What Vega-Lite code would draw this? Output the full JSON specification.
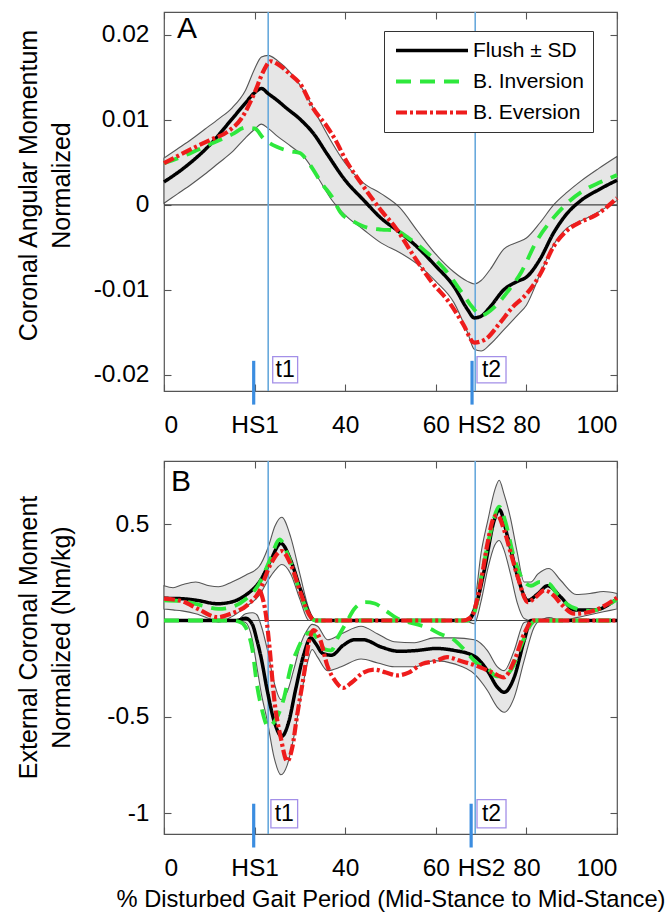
{
  "$schema": "https://vega.github.io/schema/vega-lite/v6.json",
  "padding": {"left": 15, "top": 10, "right": 5, "bottom": 5},
  "background": "white",
  "config": {
    "font": "Liberation Sans",
    "view": {"stroke": "#555555", "strokeWidth": 1.2},
    "axis": {"domain": false, "grid": false, "tickColor": "#555555", "tickWidth": 1.1, "tickSize": -7, "labelFont": "Liberation Sans", "labelFontSize": 24.5, "labelColor": "#000000", "titleFont": "Liberation Sans", "titleFontSize": 25, "titleFontWeight": "normal", "titleColor": "#000000", "titleLineHeight": 33},
    "axisX": {"labelPadding": 29},
    "axisY": {"labelPadding": 22}
  },
  "datasets": {
    "bands": [
      {"p":"A","b":"m","x":0,"hi":0.0055,"lo":0.0002},
      {"p":"A","b":"m","x":3,"hi":0.0066,"lo":0.0013},
      {"p":"A","b":"m","x":6,"hi":0.0077,"lo":0.0024},
      {"p":"A","b":"m","x":9,"hi":0.0089,"lo":0.0036},
      {"p":"A","b":"m","x":12,"hi":0.0101,"lo":0.0049},
      {"p":"A","b":"m","x":15,"hi":0.0114,"lo":0.0062},
      {"p":"A","b":"m","x":18,"hi":0.0135,"lo":0.0079},
      {"p":"A","b":"m","x":20,"hi":0.0160,"lo":0.0089},
      {"p":"A","b":"m","x":21.5,"hi":0.0174,"lo":0.0095},
      {"p":"A","b":"m","x":23,"hi":0.0176,"lo":0.0090},
      {"p":"A","b":"m","x":25,"hi":0.0170,"lo":0.0081},
      {"p":"A","b":"m","x":28,"hi":0.0155,"lo":0.0069},
      {"p":"A","b":"m","x":31,"hi":0.0133,"lo":0.0056},
      {"p":"A","b":"m","x":34,"hi":0.0103,"lo":0.0032},
      {"p":"A","b":"m","x":37,"hi":0.0074,"lo":0.0006},
      {"p":"A","b":"m","x":40,"hi":0.0049,"lo":-0.0012},
      {"p":"A","b":"m","x":44,"hi":0.0026,"lo":-0.0029},
      {"p":"A","b":"m","x":48,"hi":0.0013,"lo":-0.0045},
      {"p":"A","b":"m","x":52,"hi":-0.0003,"lo":-0.0056},
      {"p":"A","b":"m","x":56,"hi":-0.0031,"lo":-0.0070},
      {"p":"A","b":"m","x":60,"hi":-0.0058,"lo":-0.0090},
      {"p":"A","b":"m","x":64,"hi":-0.0079,"lo":-0.0115},
      {"p":"A","b":"m","x":67,"hi":-0.0090,"lo":-0.0150},
      {"p":"A","b":"m","x":68.5,"hi":-0.0093,"lo":-0.0170},
      {"p":"A","b":"m","x":70,"hi":-0.0089,"lo":-0.0172},
      {"p":"A","b":"m","x":72,"hi":-0.0076,"lo":-0.0164},
      {"p":"A","b":"m","x":75,"hi":-0.0052,"lo":-0.0147},
      {"p":"A","b":"m","x":78,"hi":-0.0044,"lo":-0.0130},
      {"p":"A","b":"m","x":80,"hi":-0.0039,"lo":-0.0118},
      {"p":"A","b":"m","x":83,"hi":-0.0021,"lo":-0.0082},
      {"p":"A","b":"m","x":86,"hi":0.0000,"lo":-0.0047},
      {"p":"A","b":"m","x":89,"hi":0.0015,"lo":-0.0027},
      {"p":"A","b":"m","x":92,"hi":0.0028,"lo":-0.0019},
      {"p":"A","b":"m","x":96,"hi":0.0043,"lo":-0.0008},
      {"p":"A","b":"m","x":100,"hi":0.0057,"lo":0.0005},

      {"p":"B","b":"pos","x":0,"hi":0.18,"lo":0.06},
      {"p":"B","b":"pos","x":2,"hi":0.17,"lo":0.055},
      {"p":"B","b":"pos","x":4,"hi":0.185,"lo":0.05},
      {"p":"B","b":"pos","x":7,"hi":0.2,"lo":0.035},
      {"p":"B","b":"pos","x":10,"hi":0.18,"lo":0.01},
      {"p":"B","b":"pos","x":12,"hi":0.175,"lo":-0.008},
      {"p":"B","b":"pos","x":15,"hi":0.2,"lo":0.02},
      {"p":"B","b":"pos","x":18,"hi":0.235,"lo":0.07},
      {"p":"B","b":"pos","x":21,"hi":0.28,"lo":0.13},
      {"p":"B","b":"pos","x":23,"hi":0.38,"lo":0.21},
      {"p":"B","b":"pos","x":24.5,"hi":0.49,"lo":0.26},
      {"p":"B","b":"pos","x":26,"hi":0.535,"lo":0.29},
      {"p":"B","b":"pos","x":28,"hi":0.43,"lo":0.24},
      {"p":"B","b":"pos","x":30,"hi":0.24,"lo":0.11},
      {"p":"B","b":"pos","x":32,"hi":0.06,"lo":0.0},
      {"p":"B","b":"pos","x":33.5,"hi":0.0,"lo":0.0},
      {"p":"B","b":"pos","x":66,"hi":0.0,"lo":0.0},
      {"p":"B","b":"pos","x":67,"hi":0.01,"lo":-0.005},
      {"p":"B","b":"pos","x":68.5,"hi":0.08,"lo":-0.017},
      {"p":"B","b":"pos","x":70,"hi":0.35,"lo":0.1},
      {"p":"B","b":"pos","x":71.5,"hi":0.52,"lo":0.27},
      {"p":"B","b":"pos","x":73,"hi":0.675,"lo":0.39},
      {"p":"B","b":"pos","x":74,"hi":0.727,"lo":0.415},
      {"p":"B","b":"pos","x":75,"hi":0.66,"lo":0.37},
      {"p":"B","b":"pos","x":76.5,"hi":0.53,"lo":0.24},
      {"p":"B","b":"pos","x":78,"hi":0.35,"lo":0.09},
      {"p":"B","b":"pos","x":79.5,"hi":0.2,"lo":0.01},
      {"p":"B","b":"pos","x":81,"hi":0.2,"lo":0.0},
      {"p":"B","b":"pos","x":82.5,"hi":0.24,"lo":0.0},
      {"p":"B","b":"pos","x":85,"hi":0.27,"lo":0.015},
      {"p":"B","b":"pos","x":87.5,"hi":0.21,"lo":0.0},
      {"p":"B","b":"pos","x":91,"hi":0.135,"lo":0.015},
      {"p":"B","b":"pos","x":94,"hi":0.14,"lo":0.03},
      {"p":"B","b":"pos","x":97,"hi":0.15,"lo":0.045},
      {"p":"B","b":"pos","x":100,"hi":0.14,"lo":0.06},

      {"p":"B","b":"neg","x":0,"hi":0,"lo":0},
      {"p":"B","b":"neg","x":16,"hi":0,"lo":0},
      {"p":"B","b":"neg","x":18,"hi":0.035,"lo":-0.01},
      {"p":"B","b":"neg","x":19.5,"hi":0.04,"lo":-0.1},
      {"p":"B","b":"neg","x":20.5,"hi":0.03,"lo":-0.24},
      {"p":"B","b":"neg","x":21.5,"hi":-0.03,"lo":-0.38},
      {"p":"B","b":"neg","x":22.8,"hi":-0.15,"lo":-0.52},
      {"p":"B","b":"neg","x":24.3,"hi":-0.32,"lo":-0.71},
      {"p":"B","b":"neg","x":25.8,"hi":-0.41,"lo":-0.8},
      {"p":"B","b":"neg","x":27.2,"hi":-0.37,"lo":-0.75},
      {"p":"B","b":"neg","x":28.7,"hi":-0.25,"lo":-0.6},
      {"p":"B","b":"neg","x":30.2,"hi":-0.12,"lo":-0.4},
      {"p":"B","b":"neg","x":31.6,"hi":-0.05,"lo":-0.225},
      {"p":"B","b":"neg","x":32.7,"hi":-0.02,"lo":-0.15},
      {"p":"B","b":"neg","x":33.9,"hi":-0.03,"lo":-0.19},
      {"p":"B","b":"neg","x":36.1,"hi":-0.1,"lo":-0.26},
      {"p":"B","b":"neg","x":39.1,"hi":-0.07,"lo":-0.24},
      {"p":"B","b":"neg","x":43.5,"hi":-0.03,"lo":-0.2},
      {"p":"B","b":"neg","x":47.2,"hi":-0.07,"lo":-0.22},
      {"p":"B","b":"neg","x":50.8,"hi":-0.11,"lo":-0.24},
      {"p":"B","b":"neg","x":55.3,"hi":-0.115,"lo":-0.24},
      {"p":"B","b":"neg","x":59.7,"hi":-0.09,"lo":-0.208},
      {"p":"B","b":"neg","x":64.1,"hi":-0.09,"lo":-0.225},
      {"p":"B","b":"neg","x":68.5,"hi":-0.1,"lo":-0.277},
      {"p":"B","b":"neg","x":71.4,"hi":-0.156,"lo":-0.363},
      {"p":"B","b":"neg","x":73.6,"hi":-0.24,"lo":-0.45},
      {"p":"B","b":"neg","x":75.1,"hi":-0.26,"lo":-0.476},
      {"p":"B","b":"neg","x":77.3,"hi":-0.156,"lo":-0.4},
      {"p":"B","b":"neg","x":79.5,"hi":-0.01,"lo":-0.208},
      {"p":"B","b":"neg","x":81.7,"hi":0,"lo":-0.035},
      {"p":"B","b":"neg","x":83.2,"hi":0,"lo":0},
      {"p":"B","b":"neg","x":100,"hi":0,"lo":0}
    ],
    "lines": [
      {"p":"A","s":"Flush ± SD","b":"m","x":0,"y":0.0027},
      {"p":"A","s":"Flush ± SD","b":"m","x":5,"y":0.0046},
      {"p":"A","s":"Flush ± SD","b":"m","x":10,"y":0.0070},
      {"p":"A","s":"Flush ± SD","b":"m","x":15,"y":0.0101},
      {"p":"A","s":"Flush ± SD","b":"m","x":18,"y":0.0120},
      {"p":"A","s":"Flush ± SD","b":"m","x":20,"y":0.0132},
      {"p":"A","s":"Flush ± SD","b":"m","x":21.5,"y":0.0137},
      {"p":"A","s":"Flush ± SD","b":"m","x":23,"y":0.0131},
      {"p":"A","s":"Flush ± SD","b":"m","x":25,"y":0.0123},
      {"p":"A","s":"Flush ± SD","b":"m","x":27,"y":0.0114},
      {"p":"A","s":"Flush ± SD","b":"m","x":30,"y":0.0101},
      {"p":"A","s":"Flush ± SD","b":"m","x":33,"y":0.0084},
      {"p":"A","s":"Flush ± SD","b":"m","x":36,"y":0.0060},
      {"p":"A","s":"Flush ± SD","b":"m","x":40,"y":0.0029},
      {"p":"A","s":"Flush ± SD","b":"m","x":44,"y":0.0006},
      {"p":"A","s":"Flush ± SD","b":"m","x":48,"y":-0.0016},
      {"p":"A","s":"Flush ± SD","b":"m","x":52,"y":-0.0032},
      {"p":"A","s":"Flush ± SD","b":"m","x":56,"y":-0.0050},
      {"p":"A","s":"Flush ± SD","b":"m","x":60,"y":-0.0072},
      {"p":"A","s":"Flush ± SD","b":"m","x":64,"y":-0.0096},
      {"p":"A","s":"Flush ± SD","b":"m","x":67,"y":-0.0123},
      {"p":"A","s":"Flush ± SD","b":"m","x":68.5,"y":-0.0133},
      {"p":"A","s":"Flush ± SD","b":"m","x":70,"y":-0.0131},
      {"p":"A","s":"Flush ± SD","b":"m","x":72,"y":-0.0120},
      {"p":"A","s":"Flush ± SD","b":"m","x":75,"y":-0.0100},
      {"p":"A","s":"Flush ± SD","b":"m","x":78,"y":-0.0090},
      {"p":"A","s":"Flush ± SD","b":"m","x":80,"y":-0.0085},
      {"p":"A","s":"Flush ± SD","b":"m","x":83,"y":-0.0064},
      {"p":"A","s":"Flush ± SD","b":"m","x":86,"y":-0.0033},
      {"p":"A","s":"Flush ± SD","b":"m","x":89,"y":-0.0010},
      {"p":"A","s":"Flush ± SD","b":"m","x":92,"y":0.0005},
      {"p":"A","s":"Flush ± SD","b":"m","x":96,"y":0.0018},
      {"p":"A","s":"Flush ± SD","b":"m","x":100,"y":0.0029},

      {"p":"A","s":"B. Inversion","b":"m","x":0,"y":0.0049},
      {"p":"A","s":"B. Inversion","b":"m","x":5,"y":0.0059},
      {"p":"A","s":"B. Inversion","b":"m","x":10,"y":0.0071},
      {"p":"A","s":"B. Inversion","b":"m","x":15,"y":0.0083},
      {"p":"A","s":"B. Inversion","b":"m","x":18,"y":0.0091},
      {"p":"A","s":"B. Inversion","b":"m","x":20,"y":0.0090},
      {"p":"A","s":"B. Inversion","b":"m","x":22,"y":0.0078},
      {"p":"A","s":"B. Inversion","b":"m","x":25,"y":0.0068},
      {"p":"A","s":"B. Inversion","b":"m","x":28,"y":0.0063},
      {"p":"A","s":"B. Inversion","b":"m","x":30,"y":0.0061},
      {"p":"A","s":"B. Inversion","b":"m","x":32,"y":0.0049},
      {"p":"A","s":"B. Inversion","b":"m","x":35,"y":0.0024},
      {"p":"A","s":"B. Inversion","b":"m","x":37,"y":0.0010},
      {"p":"A","s":"B. Inversion","b":"m","x":39,"y":-0.0009},
      {"p":"A","s":"B. Inversion","b":"m","x":42,"y":-0.0020},
      {"p":"A","s":"B. Inversion","b":"m","x":45,"y":-0.0027},
      {"p":"A","s":"B. Inversion","b":"m","x":48,"y":-0.0029},
      {"p":"A","s":"B. Inversion","b":"m","x":51,"y":-0.0030},
      {"p":"A","s":"B. Inversion","b":"m","x":54,"y":-0.0039},
      {"p":"A","s":"B. Inversion","b":"m","x":58,"y":-0.0056},
      {"p":"A","s":"B. Inversion","b":"m","x":62,"y":-0.0076},
      {"p":"A","s":"B. Inversion","b":"m","x":66,"y":-0.0105},
      {"p":"A","s":"B. Inversion","b":"m","x":68,"y":-0.0120},
      {"p":"A","s":"B. Inversion","b":"m","x":70,"y":-0.0130},
      {"p":"A","s":"B. Inversion","b":"m","x":73,"y":-0.0120},
      {"p":"A","s":"B. Inversion","b":"m","x":76,"y":-0.0101},
      {"p":"A","s":"B. Inversion","b":"m","x":79,"y":-0.0078},
      {"p":"A","s":"B. Inversion","b":"m","x":82,"y":-0.0045},
      {"p":"A","s":"B. Inversion","b":"m","x":86,"y":-0.0015},
      {"p":"A","s":"B. Inversion","b":"m","x":89,"y":0.0002},
      {"p":"A","s":"B. Inversion","b":"m","x":93,"y":0.0018},
      {"p":"A","s":"B. Inversion","b":"m","x":96,"y":0.0026},
      {"p":"A","s":"B. Inversion","b":"m","x":100,"y":0.0035},

      {"p":"A","s":"B. Eversion","b":"m","x":0,"y":0.0049},
      {"p":"A","s":"B. Eversion","b":"m","x":5,"y":0.0063},
      {"p":"A","s":"B. Eversion","b":"m","x":10,"y":0.0076},
      {"p":"A","s":"B. Eversion","b":"m","x":14,"y":0.0086},
      {"p":"A","s":"B. Eversion","b":"m","x":17,"y":0.0101},
      {"p":"A","s":"B. Eversion","b":"m","x":20,"y":0.0132},
      {"p":"A","s":"B. Eversion","b":"m","x":22,"y":0.0158},
      {"p":"A","s":"B. Eversion","b":"m","x":23.5,"y":0.0169},
      {"p":"A","s":"B. Eversion","b":"m","x":25,"y":0.0166},
      {"p":"A","s":"B. Eversion","b":"m","x":28,"y":0.0153},
      {"p":"A","s":"B. Eversion","b":"m","x":30,"y":0.0143},
      {"p":"A","s":"B. Eversion","b":"m","x":33,"y":0.0113},
      {"p":"A","s":"B. Eversion","b":"m","x":36,"y":0.0092},
      {"p":"A","s":"B. Eversion","b":"m","x":38,"y":0.0075},
      {"p":"A","s":"B. Eversion","b":"m","x":40,"y":0.0054},
      {"p":"A","s":"B. Eversion","b":"m","x":44,"y":0.0022},
      {"p":"A","s":"B. Eversion","b":"m","x":48,"y":-0.0007},
      {"p":"A","s":"B. Eversion","b":"m","x":51,"y":-0.0026},
      {"p":"A","s":"B. Eversion","b":"m","x":55,"y":-0.0059},
      {"p":"A","s":"B. Eversion","b":"m","x":59,"y":-0.0090},
      {"p":"A","s":"B. Eversion","b":"m","x":63,"y":-0.0115},
      {"p":"A","s":"B. Eversion","b":"m","x":66,"y":-0.0140},
      {"p":"A","s":"B. Eversion","b":"m","x":68.5,"y":-0.0162},
      {"p":"A","s":"B. Eversion","b":"m","x":71,"y":-0.0158},
      {"p":"A","s":"B. Eversion","b":"m","x":74,"y":-0.0140},
      {"p":"A","s":"B. Eversion","b":"m","x":77,"y":-0.0120},
      {"p":"A","s":"B. Eversion","b":"m","x":80,"y":-0.0105},
      {"p":"A","s":"B. Eversion","b":"m","x":83,"y":-0.0082},
      {"p":"A","s":"B. Eversion","b":"m","x":86,"y":-0.0049},
      {"p":"A","s":"B. Eversion","b":"m","x":89,"y":-0.0030},
      {"p":"A","s":"B. Eversion","b":"m","x":92,"y":-0.0020},
      {"p":"A","s":"B. Eversion","b":"m","x":95,"y":-0.0013},
      {"p":"A","s":"B. Eversion","b":"m","x":100,"y":0.0008},

      {"p":"B","s":"Flush ± SD","b":"pos","x":0,"y":0.115},
      {"p":"B","s":"Flush ± SD","b":"pos","x":4,"y":0.113},
      {"p":"B","s":"Flush ± SD","b":"pos","x":7.4,"y":0.104},
      {"p":"B","s":"Flush ± SD","b":"pos","x":11.8,"y":0.087},
      {"p":"B","s":"Flush ± SD","b":"pos","x":14.7,"y":0.095},
      {"p":"B","s":"Flush ± SD","b":"pos","x":18.4,"y":0.138},
      {"p":"B","s":"Flush ± SD","b":"pos","x":21.3,"y":0.208},
      {"p":"B","s":"Flush ± SD","b":"pos","x":23.5,"y":0.31},
      {"p":"B","s":"Flush ± SD","b":"pos","x":25.8,"y":0.40},
      {"p":"B","s":"Flush ± SD","b":"pos","x":28,"y":0.31},
      {"p":"B","s":"Flush ± SD","b":"pos","x":30.2,"y":0.156},
      {"p":"B","s":"Flush ± SD","b":"pos","x":32.4,"y":0.02},
      {"p":"B","s":"Flush ± SD","b":"pos","x":33.5,"y":0},
      {"p":"B","s":"Flush ± SD","b":"pos","x":67,"y":0},
      {"p":"B","s":"Flush ± SD","b":"pos","x":68.5,"y":0.05},
      {"p":"B","s":"Flush ± SD","b":"pos","x":70.7,"y":0.26},
      {"p":"B","s":"Flush ± SD","b":"pos","x":72.9,"y":0.52},
      {"p":"B","s":"Flush ± SD","b":"pos","x":74,"y":0.575},
      {"p":"B","s":"Flush ± SD","b":"pos","x":75.9,"y":0.43},
      {"p":"B","s":"Flush ± SD","b":"pos","x":78.1,"y":0.225},
      {"p":"B","s":"Flush ± SD","b":"pos","x":80.3,"y":0.104},
      {"p":"B","s":"Flush ± SD","b":"pos","x":82.5,"y":0.138},
      {"p":"B","s":"Flush ± SD","b":"pos","x":84.7,"y":0.18},
      {"p":"B","s":"Flush ± SD","b":"pos","x":87.6,"y":0.121},
      {"p":"B","s":"Flush ± SD","b":"pos","x":90.6,"y":0.055},
      {"p":"B","s":"Flush ± SD","b":"pos","x":95,"y":0.055},
      {"p":"B","s":"Flush ± SD","b":"pos","x":100,"y":0.113},

      {"p":"B","s":"Flush ± SD","b":"neg","x":0,"y":0},
      {"p":"B","s":"Flush ± SD","b":"neg","x":16,"y":0},
      {"p":"B","s":"Flush ± SD","b":"neg","x":18,"y":0.012},
      {"p":"B","s":"Flush ± SD","b":"neg","x":19.5,"y":-0.02},
      {"p":"B","s":"Flush ± SD","b":"neg","x":20.5,"y":-0.1},
      {"p":"B","s":"Flush ± SD","b":"neg","x":21.5,"y":-0.2},
      {"p":"B","s":"Flush ± SD","b":"neg","x":22.8,"y":-0.364},
      {"p":"B","s":"Flush ± SD","b":"neg","x":24.3,"y":-0.52},
      {"p":"B","s":"Flush ± SD","b":"neg","x":26,"y":-0.6},
      {"p":"B","s":"Flush ± SD","b":"neg","x":27.6,"y":-0.52},
      {"p":"B","s":"Flush ± SD","b":"neg","x":29,"y":-0.364},
      {"p":"B","s":"Flush ± SD","b":"neg","x":30.9,"y":-0.173},
      {"p":"B","s":"Flush ± SD","b":"neg","x":32.4,"y":-0.09},
      {"p":"B","s":"Flush ± SD","b":"neg","x":33.5,"y":-0.12},
      {"p":"B","s":"Flush ± SD","b":"neg","x":35,"y":-0.17},
      {"p":"B","s":"Flush ± SD","b":"neg","x":37,"y":-0.18},
      {"p":"B","s":"Flush ± SD","b":"neg","x":39.5,"y":-0.13},
      {"p":"B","s":"Flush ± SD","b":"neg","x":42,"y":-0.1},
      {"p":"B","s":"Flush ± SD","b":"neg","x":44,"y":-0.1},
      {"p":"B","s":"Flush ± SD","b":"neg","x":48,"y":-0.138},
      {"p":"B","s":"Flush ± SD","b":"neg","x":52,"y":-0.16},
      {"p":"B","s":"Flush ± SD","b":"neg","x":56,"y":-0.155},
      {"p":"B","s":"Flush ± SD","b":"neg","x":60,"y":-0.145},
      {"p":"B","s":"Flush ± SD","b":"neg","x":64,"y":-0.155},
      {"p":"B","s":"Flush ± SD","b":"neg","x":68.5,"y":-0.185},
      {"p":"B","s":"Flush ± SD","b":"neg","x":71.4,"y":-0.26},
      {"p":"B","s":"Flush ± SD","b":"neg","x":73.6,"y":-0.346},
      {"p":"B","s":"Flush ± SD","b":"neg","x":75.1,"y":-0.372},
      {"p":"B","s":"Flush ± SD","b":"neg","x":77.3,"y":-0.294},
      {"p":"B","s":"Flush ± SD","b":"neg","x":79.5,"y":-0.104},
      {"p":"B","s":"Flush ± SD","b":"neg","x":81,"y":0},
      {"p":"B","s":"Flush ± SD","b":"neg","x":100,"y":0},

      {"p":"B","s":"B. Inversion","b":"pos","x":0,"y":0.105},
      {"p":"B","s":"B. Inversion","b":"pos","x":4,"y":0.1},
      {"p":"B","s":"B. Inversion","b":"pos","x":8,"y":0.08},
      {"p":"B","s":"B. Inversion","b":"pos","x":12,"y":0.06},
      {"p":"B","s":"B. Inversion","b":"pos","x":15,"y":0.07},
      {"p":"B","s":"B. Inversion","b":"pos","x":18,"y":0.11},
      {"p":"B","s":"B. Inversion","b":"pos","x":21,"y":0.19},
      {"p":"B","s":"B. Inversion","b":"pos","x":23.5,"y":0.32},
      {"p":"B","s":"B. Inversion","b":"pos","x":25.5,"y":0.42},
      {"p":"B","s":"B. Inversion","b":"pos","x":27.5,"y":0.33},
      {"p":"B","s":"B. Inversion","b":"pos","x":30,"y":0.15},
      {"p":"B","s":"B. Inversion","b":"pos","x":32,"y":0.03},
      {"p":"B","s":"B. Inversion","b":"pos","x":33.5,"y":0},
      {"p":"B","s":"B. Inversion","b":"pos","x":67,"y":0},
      {"p":"B","s":"B. Inversion","b":"pos","x":68.5,"y":0.04},
      {"p":"B","s":"B. Inversion","b":"pos","x":70,"y":0.22},
      {"p":"B","s":"B. Inversion","b":"pos","x":72,"y":0.45},
      {"p":"B","s":"B. Inversion","b":"pos","x":74,"y":0.59},
      {"p":"B","s":"B. Inversion","b":"pos","x":75.5,"y":0.5},
      {"p":"B","s":"B. Inversion","b":"pos","x":77,"y":0.35},
      {"p":"B","s":"B. Inversion","b":"pos","x":79,"y":0.22},
      {"p":"B","s":"B. Inversion","b":"pos","x":81,"y":0.18},
      {"p":"B","s":"B. Inversion","b":"pos","x":83,"y":0.2},
      {"p":"B","s":"B. Inversion","b":"pos","x":85,"y":0.19},
      {"p":"B","s":"B. Inversion","b":"pos","x":87,"y":0.13},
      {"p":"B","s":"B. Inversion","b":"pos","x":90,"y":0.07},
      {"p":"B","s":"B. Inversion","b":"pos","x":94,"y":0.05},
      {"p":"B","s":"B. Inversion","b":"pos","x":100,"y":0.11},

      {"p":"B","s":"B. Inversion","b":"neg","x":0,"y":0},
      {"p":"B","s":"B. Inversion","b":"neg","x":15,"y":0},
      {"p":"B","s":"B. Inversion","b":"neg","x":17,"y":-0.01},
      {"p":"B","s":"B. Inversion","b":"neg","x":18.5,"y":-0.06},
      {"p":"B","s":"B. Inversion","b":"neg","x":19.5,"y":-0.15},
      {"p":"B","s":"B. Inversion","b":"neg","x":20.5,"y":-0.33},
      {"p":"B","s":"B. Inversion","b":"neg","x":21.5,"y":-0.45},
      {"p":"B","s":"B. Inversion","b":"neg","x":23,"y":-0.55},
      {"p":"B","s":"B. Inversion","b":"neg","x":24.5,"y":-0.52},
      {"p":"B","s":"B. Inversion","b":"neg","x":26.5,"y":-0.4},
      {"p":"B","s":"B. Inversion","b":"neg","x":28,"y":-0.24},
      {"p":"B","s":"B. Inversion","b":"neg","x":29.5,"y":-0.15},
      {"p":"B","s":"B. Inversion","b":"neg","x":31,"y":-0.08},
      {"p":"B","s":"B. Inversion","b":"neg","x":32.5,"y":-0.06},
      {"p":"B","s":"B. Inversion","b":"neg","x":34,"y":-0.1},
      {"p":"B","s":"B. Inversion","b":"neg","x":35.5,"y":-0.15},
      {"p":"B","s":"B. Inversion","b":"neg","x":36.9,"y":-0.155},
      {"p":"B","s":"B. Inversion","b":"neg","x":38.4,"y":-0.087},
      {"p":"B","s":"B. Inversion","b":"neg","x":40.5,"y":0.0},
      {"p":"B","s":"B. Inversion","b":"neg","x":42,"y":0.06},
      {"p":"B","s":"B. Inversion","b":"neg","x":44.5,"y":0.095},
      {"p":"B","s":"B. Inversion","b":"neg","x":46.5,"y":0.088},
      {"p":"B","s":"B. Inversion","b":"neg","x":49,"y":0.05},
      {"p":"B","s":"B. Inversion","b":"neg","x":51.5,"y":0.01},
      {"p":"B","s":"B. Inversion","b":"neg","x":55,"y":-0.015},
      {"p":"B","s":"B. Inversion","b":"neg","x":58,"y":-0.035},
      {"p":"B","s":"B. Inversion","b":"neg","x":61,"y":-0.07},
      {"p":"B","s":"B. Inversion","b":"neg","x":64,"y":-0.1},
      {"p":"B","s":"B. Inversion","b":"neg","x":67,"y":-0.17},
      {"p":"B","s":"B. Inversion","b":"neg","x":69,"y":-0.22},
      {"p":"B","s":"B. Inversion","b":"neg","x":71.5,"y":-0.25},
      {"p":"B","s":"B. Inversion","b":"neg","x":73.5,"y":-0.29},
      {"p":"B","s":"B. Inversion","b":"neg","x":75,"y":-0.29},
      {"p":"B","s":"B. Inversion","b":"neg","x":77,"y":-0.24},
      {"p":"B","s":"B. Inversion","b":"neg","x":79,"y":-0.12},
      {"p":"B","s":"B. Inversion","b":"neg","x":81,"y":-0.02},
      {"p":"B","s":"B. Inversion","b":"neg","x":82,"y":0},
      {"p":"B","s":"B. Inversion","b":"neg","x":100,"y":0},

      {"p":"B","s":"B. Eversion","b":"pos","x":0,"y":0.113},
      {"p":"B","s":"B. Eversion","b":"pos","x":4,"y":0.1},
      {"p":"B","s":"B. Eversion","b":"pos","x":7.5,"y":0.06},
      {"p":"B","s":"B. Eversion","b":"pos","x":11.8,"y":0.017},
      {"p":"B","s":"B. Eversion","b":"pos","x":14.7,"y":0.035},
      {"p":"B","s":"B. Eversion","b":"pos","x":18.4,"y":0.08},
      {"p":"B","s":"B. Eversion","b":"pos","x":21,"y":0.15},
      {"p":"B","s":"B. Eversion","b":"pos","x":23.5,"y":0.29},
      {"p":"B","s":"B. Eversion","b":"pos","x":26,"y":0.36},
      {"p":"B","s":"B. Eversion","b":"pos","x":28,"y":0.29},
      {"p":"B","s":"B. Eversion","b":"pos","x":30.2,"y":0.14},
      {"p":"B","s":"B. Eversion","b":"pos","x":32.4,"y":0.017},
      {"p":"B","s":"B. Eversion","b":"pos","x":33.5,"y":0},
      {"p":"B","s":"B. Eversion","b":"pos","x":66,"y":0},
      {"p":"B","s":"B. Eversion","b":"pos","x":67.8,"y":0.017},
      {"p":"B","s":"B. Eversion","b":"pos","x":70,"y":0.208},
      {"p":"B","s":"B. Eversion","b":"pos","x":71.4,"y":0.398},
      {"p":"B","s":"B. Eversion","b":"pos","x":72.9,"y":0.537},
      {"p":"B","s":"B. Eversion","b":"pos","x":73.6,"y":0.546},
      {"p":"B","s":"B. Eversion","b":"pos","x":75.1,"y":0.467},
      {"p":"B","s":"B. Eversion","b":"pos","x":76.6,"y":0.346},
      {"p":"B","s":"B. Eversion","b":"pos","x":78.1,"y":0.225},
      {"p":"B","s":"B. Eversion","b":"pos","x":80.3,"y":0.095},
      {"p":"B","s":"B. Eversion","b":"pos","x":82,"y":0.12},
      {"p":"B","s":"B. Eversion","b":"pos","x":84,"y":0.156},
      {"p":"B","s":"B. Eversion","b":"pos","x":86,"y":0.13},
      {"p":"B","s":"B. Eversion","b":"pos","x":87.6,"y":0.087},
      {"p":"B","s":"B. Eversion","b":"pos","x":90.6,"y":0.035},
      {"p":"B","s":"B. Eversion","b":"pos","x":95,"y":0.052},
      {"p":"B","s":"B. Eversion","b":"pos","x":100,"y":0.118},

      {"p":"B","s":"B. Eversion","b":"neg","x":21.3,"y":0.15},
      {"p":"B","s":"B. Eversion","b":"neg","x":22.5,"y":0.03},
      {"p":"B","s":"B. Eversion","b":"neg","x":23.3,"y":-0.14},
      {"p":"B","s":"B. Eversion","b":"neg","x":24.3,"y":-0.40},
      {"p":"B","s":"B. Eversion","b":"neg","x":25.8,"y":-0.61},
      {"p":"B","s":"B. Eversion","b":"neg","x":27.2,"y":-0.73},
      {"p":"B","s":"B. Eversion","b":"neg","x":28.3,"y":-0.66},
      {"p":"B","s":"B. Eversion","b":"neg","x":29.4,"y":-0.49},
      {"p":"B","s":"B. Eversion","b":"neg","x":30.9,"y":-0.28},
      {"p":"B","s":"B. Eversion","b":"neg","x":32,"y":-0.11},
      {"p":"B","s":"B. Eversion","b":"neg","x":33,"y":-0.05},
      {"p":"B","s":"B. Eversion","b":"neg","x":34.5,"y":-0.1},
      {"p":"B","s":"B. Eversion","b":"neg","x":36,"y":-0.23},
      {"p":"B","s":"B. Eversion","b":"neg","x":38,"y":-0.32},
      {"p":"B","s":"B. Eversion","b":"neg","x":39.5,"y":-0.35},
      {"p":"B","s":"B. Eversion","b":"neg","x":41.5,"y":-0.32},
      {"p":"B","s":"B. Eversion","b":"neg","x":44,"y":-0.27},
      {"p":"B","s":"B. Eversion","b":"neg","x":46.5,"y":-0.255},
      {"p":"B","s":"B. Eversion","b":"neg","x":49,"y":-0.27},
      {"p":"B","s":"B. Eversion","b":"neg","x":51.5,"y":-0.285},
      {"p":"B","s":"B. Eversion","b":"neg","x":54,"y":-0.27},
      {"p":"B","s":"B. Eversion","b":"neg","x":57,"y":-0.225},
      {"p":"B","s":"B. Eversion","b":"neg","x":60,"y":-0.21},
      {"p":"B","s":"B. Eversion","b":"neg","x":62.5,"y":-0.19},
      {"p":"B","s":"B. Eversion","b":"neg","x":65.5,"y":-0.21},
      {"p":"B","s":"B. Eversion","b":"neg","x":69,"y":-0.235},
      {"p":"B","s":"B. Eversion","b":"neg","x":72.5,"y":-0.27},
      {"p":"B","s":"B. Eversion","b":"neg","x":75,"y":-0.295},
      {"p":"B","s":"B. Eversion","b":"neg","x":77.3,"y":-0.21},
      {"p":"B","s":"B. Eversion","b":"neg","x":79.5,"y":-0.07},
      {"p":"B","s":"B. Eversion","b":"neg","x":81.5,"y":0},
      {"p":"B","s":"B. Eversion","b":"neg","x":100,"y":0}
    ],
    "events": [{"x": 23.0}, {"x": 68.7}],
    "hs": [
      {"p":"A","x":19.8,"y":-0.01835,"y2":-0.0235},
      {"p":"A","x":68.0,"y":-0.01835,"y2":-0.0235},
      {"p":"B","x":19.8,"y":-0.95,"y2":-1.177},
      {"p":"B","x":67.8,"y":-0.95,"y2":-1.177}
    ],
    "tbox": [
      {"p":"A","t":"t1","x":24.0,"x2":29.5,"y":-0.01785,"y2":-0.02094,"xm":26.75,"ym":-0.0194},
      {"p":"A","t":"t2","x":69.1,"x2":75.5,"y":-0.01785,"y2":-0.02094,"xm":72.3,"ym":-0.0194},
      {"p":"B","t":"t1","x":23.6,"x2":29.5,"y":-0.929,"y2":-1.075,"xm":26.55,"ym":-1.002},
      {"p":"B","t":"t2","x":69.1,"x2":75.5,"y":-0.929,"y2":-1.075,"xm":72.3,"ym":-1.002}
    ]
  },
  "spacing": 70,
  "bounds": "flush",
  "resolve": {"scale": {"color": "independent", "strokeDash": "independent", "strokeWidth": "independent"}},
  "vconcat": [
    {
      "width": 453,
      "height": 379,
      "resolve": {"axis": {"x": "independent", "y": "independent"}},
      "layer": [
        {
          "data": {"name": "bands"},
          "transform": [{"filter": "datum.p == 'A'"}],
          "mark": {"type": "area", "fill": "#e6e6e6", "stroke": "#555555", "strokeWidth": 1.1, "interpolate": "monotone"},
          "encoding": {
            "x": {"field": "x", "type": "quantitative", "scale": {"domain": [0, 100], "nice": false, "zero": false},
                  "axis": {"orient": "bottom", "values": [0, 20, 40, 60, 70, 80, 100], "title": null,
                           "labelExpr": "datum.value == 20 ? 'HS1' : datum.value == 70 ? 'HS2' : datum.label",
                           "tickOpacity": {"condition": {"test": "datum.value == 70", "value": 0}, "value": 1}}},
            "y": {"field": "lo", "type": "quantitative", "scale": {"domain": [-0.0219, 0.0227], "nice": false, "zero": false},
                  "axis": {"orient": "left", "values": [-0.02, -0.01, 0, 0.01, 0.02],
                           "labelExpr": "datum.value == 0 ? '0' : (datum.value < 0 ? '-' : '') + format(abs(datum.value), '.2f')",
                           "title": ["Coronal Angular Momentum", "Normalized"], "titleX": -123, "titleY": 173}},
            "y2": {"field": "hi"},
            "detail": {"field": "b"}
          }
        },
        {
          "data": {"values": [{}]},
          "mark": {"type": "rule", "color": "#444444", "strokeWidth": 1.2},
          "encoding": {"y": {"datum": 0, "type": "quantitative", "axis": null}}
        },
        {
          "data": {"name": "events"},
          "mark": {"type": "rule", "color": "#68a9dc", "strokeWidth": 1.6},
          "encoding": {"x": {"field": "x", "type": "quantitative", "axis": null}}
        },
        {
          "data": {"name": "lines"},
          "transform": [{"filter": "datum.p == 'A'"}],
          "mark": {"type": "line", "interpolate": "monotone"},
          "encoding": {
            "x": {"field": "x", "type": "quantitative", "axis": {"orient": "top", "labels": false, "title": null, "values": [0, 20, 40, 60, 80, 100]}},
            "y": {"field": "y", "type": "quantitative", "axis": {"orient": "right", "labels": false, "title": null, "values": [-0.02, -0.01, 0, 0.01, 0.02]}},
            "color": {"field": "s", "type": "nominal",
                      "scale": {"domain": ["Flush ± SD", "B. Inversion", "B. Eversion"], "range": ["#000000", "#2ee83c", "#ee1c1c"]},
                      "legend": {"orient": "none", "legendX": 220, "legendY": 19, "title": null, "symbolType": "M-7.5,0H64.5", "symbolSize": 4, "symbolStrokeWidth": 3.5, "labelOffset": 59, "labelFontSize": 21, "labelFont": "Liberation Sans", "labelColor": "#000000", "padding": 9, "rowPadding": 9, "fillColor": "white", "strokeColor": "#333333", "labelLimit": 300}},
            "strokeDash": {"field": "s", "type": "nominal",
                      "scale": {"domain": ["Flush ± SD", "B. Inversion", "B. Eversion"], "range": [[1, 0], [15, 9], [11, 3, 3, 3]]},
                      "legend": {"orient": "none", "legendX": 220, "legendY": 19, "title": null, "symbolType": "M-7.5,0H64.5", "symbolSize": 4, "symbolStrokeWidth": 3.5, "labelOffset": 59, "labelFontSize": 21, "labelFont": "Liberation Sans", "labelColor": "#000000", "padding": 9, "rowPadding": 9, "fillColor": "white", "strokeColor": "#333333", "labelLimit": 300}},
            "strokeWidth": {"field": "s", "type": "ordinal", "scale": {"domain": ["Flush ± SD", "B. Inversion", "B. Eversion"], "range": [3.5, 4.2, 4.2]}, "legend": null},
            "detail": {"field": "b"}
          }
        },
        {
          "data": {"name": "hs"},
          "transform": [{"filter": "datum.p == 'A'"}],
          "mark": {"type": "rule", "color": "#3b8de0", "strokeWidth": 3.2},
          "encoding": {
            "x": {"field": "x", "type": "quantitative", "axis": null},
            "y": {"field": "y", "type": "quantitative", "axis": null},
            "y2": {"field": "y2"}
          }
        },
        {
          "data": {"name": "tbox"},
          "transform": [{"filter": "datum.p == 'A'"}],
          "mark": {"type": "rect", "fill": "white", "stroke": "#a38fe8", "strokeWidth": 1.3},
          "encoding": {
            "x": {"field": "x", "type": "quantitative", "axis": null},
            "x2": {"field": "x2"},
            "y": {"field": "y", "type": "quantitative", "axis": null},
            "y2": {"field": "y2"}
          }
        },
        {
          "data": {"name": "tbox"},
          "transform": [{"filter": "datum.p == 'A'"}],
          "mark": {"type": "text", "fontSize": 23, "font": "Liberation Sans", "color": "#000000", "align": "center", "baseline": "middle"},
          "encoding": {
            "x": {"field": "xm", "type": "quantitative", "axis": null},
            "y": {"field": "ym", "type": "quantitative", "axis": null},
            "text": {"field": "t"}
          }
        },
        {
          "data": {"values": [{"t": "A", "x": 5.1, "y": 0.0207}]},
          "mark": {"type": "text", "fontSize": 30, "font": "Liberation Sans", "color": "#000000", "align": "center", "baseline": "middle"},
          "encoding": {
            "x": {"field": "x", "type": "quantitative", "axis": null},
            "y": {"field": "y", "type": "quantitative", "axis": null},
            "text": {"field": "t"}
          }
        }
      ]
    },
    {
      "width": 453,
      "height": 373,
      "resolve": {"axis": {"x": "independent", "y": "independent"}},
      "layer": [
        {
          "data": {"name": "bands"},
          "transform": [{"filter": "datum.p == 'B'"}],
          "mark": {"type": "area", "fill": "#e6e6e6", "stroke": "#555555", "strokeWidth": 1.1, "interpolate": "monotone"},
          "encoding": {
            "x": {"field": "x", "type": "quantitative", "scale": {"domain": [0, 100], "nice": false, "zero": false},
                  "axis": {"orient": "bottom", "values": [0, 20, 40, 60, 70, 80, 100],
                           "labelExpr": "datum.value == 20 ? 'HS1' : datum.value == 70 ? 'HS2' : datum.label",
                           "tickOpacity": {"condition": {"test": "datum.value == 70", "value": 0}, "value": 1},
                           "title": "% Disturbed Gait Period (Mid-Stance to Mid-Stance)", "titleFontSize": 23.7, "titleY": 53, "titleBaseline": "top"}},
            "y": {"field": "lo", "type": "quantitative", "scale": {"domain": [-1.107, 0.827], "nice": false, "zero": false},
                  "axis": {"orient": "left", "values": [-1, -0.5, 0, 0.5],
                           "labelExpr": "datum.value == 0 ? '0' : (datum.value < 0 ? '-' : '') + format(abs(datum.value), '~g')",
                           "title": ["External Coronal Moment", "Normalized (Nm/kg)"], "titleX": -123, "titleY": 176}},
            "y2": {"field": "hi"},
            "detail": {"field": "b"}
          }
        },
        {
          "data": {"values": [{}]},
          "mark": {"type": "rule", "color": "#444444", "strokeWidth": 1.2},
          "encoding": {"y": {"datum": 0, "type": "quantitative", "axis": null}}
        },
        {
          "data": {"name": "events"},
          "mark": {"type": "rule", "color": "#68a9dc", "strokeWidth": 1.6},
          "encoding": {"x": {"field": "x", "type": "quantitative", "axis": null}}
        },
        {
          "data": {"name": "lines"},
          "transform": [{"filter": "datum.p == 'B'"}],
          "mark": {"type": "line", "interpolate": "monotone"},
          "encoding": {
            "x": {"field": "x", "type": "quantitative", "axis": {"orient": "top", "labels": false, "title": null, "values": [0, 20, 40, 60, 80, 100]}},
            "y": {"field": "y", "type": "quantitative", "axis": {"orient": "right", "labels": false, "title": null, "values": [-1, -0.5, 0, 0.5]}},
            "color": {"field": "s", "type": "nominal",
                      "scale": {"domain": ["Flush ± SD", "B. Inversion", "B. Eversion"], "range": ["#000000", "#2ee83c", "#ee1c1c"]}, "legend": null},
            "strokeDash": {"field": "s", "type": "nominal",
                      "scale": {"domain": ["Flush ± SD", "B. Inversion", "B. Eversion"], "range": [[1, 0], [15, 9], [11, 3, 3, 3]]}, "legend": null},
            "strokeWidth": {"field": "s", "type": "ordinal", "scale": {"domain": ["Flush ± SD", "B. Inversion", "B. Eversion"], "range": [3.5, 4.2, 4.2]}, "legend": null},
            "detail": {"field": "b"}
          }
        },
        {
          "data": {"name": "hs"},
          "transform": [{"filter": "datum.p == 'B'"}],
          "mark": {"type": "rule", "color": "#3b8de0", "strokeWidth": 3.2},
          "encoding": {
            "x": {"field": "x", "type": "quantitative", "axis": null},
            "y": {"field": "y", "type": "quantitative", "axis": null},
            "y2": {"field": "y2"}
          }
        },
        {
          "data": {"name": "tbox"},
          "transform": [{"filter": "datum.p == 'B'"}],
          "mark": {"type": "rect", "fill": "white", "stroke": "#a38fe8", "strokeWidth": 1.3},
          "encoding": {
            "x": {"field": "x", "type": "quantitative", "axis": null},
            "x2": {"field": "x2"},
            "y": {"field": "y", "type": "quantitative", "axis": null},
            "y2": {"field": "y2"}
          }
        },
        {
          "data": {"name": "tbox"},
          "transform": [{"filter": "datum.p == 'B'"}],
          "mark": {"type": "text", "fontSize": 23, "font": "Liberation Sans", "color": "#000000", "align": "center", "baseline": "middle"},
          "encoding": {
            "x": {"field": "xm", "type": "quantitative", "axis": null},
            "y": {"field": "ym", "type": "quantitative", "axis": null},
            "text": {"field": "t"}
          }
        },
        {
          "data": {"values": [{"t": "B", "x": 3.75, "y": 0.716}]},
          "mark": {"type": "text", "fontSize": 30, "font": "Liberation Sans", "color": "#000000", "align": "center", "baseline": "middle"},
          "encoding": {
            "x": {"field": "x", "type": "quantitative", "axis": null},
            "y": {"field": "y", "type": "quantitative", "axis": null},
            "text": {"field": "t"}
          }
        }
      ]
    }
  ]
}
